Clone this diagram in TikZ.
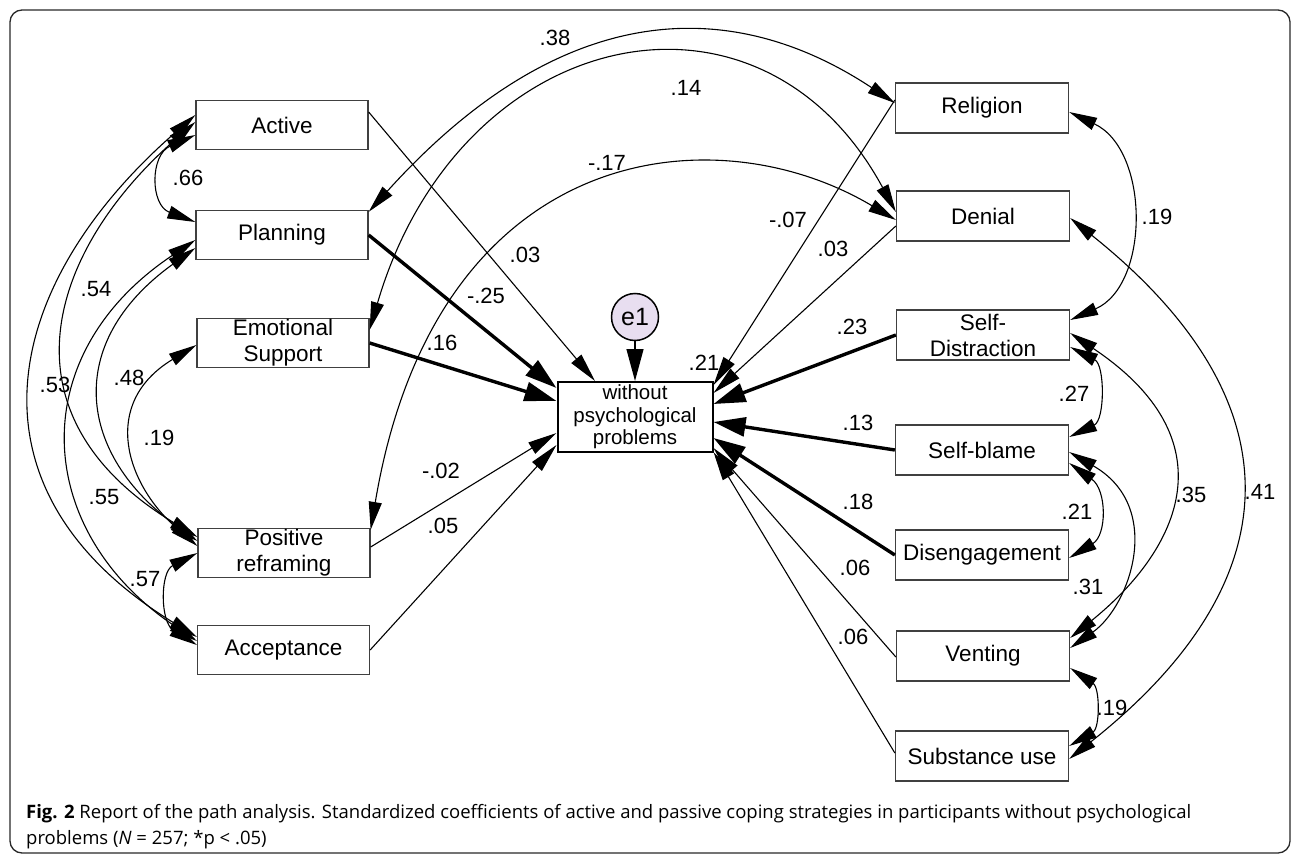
\documentclass[tikz,border=0pt]{standalone}
\usepackage{fontspec}
\setmainfont{Liberation Sans}
\newfontfamily\capfont{Open Sans}
\usetikzlibrary{arrows.meta,calc}
\definecolor{efill}{RGB}{232,222,240}
\definecolor{framec}{RGB}{40,40,40}
\begin{document}
\begin{tikzpicture}[x=1pt,y=-1pt,
  box/.style={draw=black!75, line width=1.3pt, minimum width=172pt, minimum height=49pt, inner sep=0pt, align=center, font=\fontsize{22.5}{26}\selectfont},
  rbox/.style={box, minimum width=173pt, minimum height=50pt},
  cbox/.style={draw=black, line width=2pt, minimum width=155pt, minimum height=70pt, inner sep=0pt, align=center, font=\fontsize{20.5}{22.5}\selectfont},
  lab/.style={font=\fontsize{22}{25}\selectfont, inner sep=0pt},
  reg/.style={-{Triangle[length=29pt,width=13pt]}, line width=1.1pt},
  sreg/.style={-{Triangle[length=32pt,width=19pt]}, line width=3.4pt},
  cov/.style={{Triangle[length=28pt,width=13pt]}-{Triangle[length=28pt,width=13pt]}, line width=1.1pt},
]
\useasboundingbox (0,0) rectangle (1292,856);
\draw[framec, line width=1.3pt, rounded corners=12pt] (10,10) rectangle (1290,853);

% left boxes
\node[box] (act) at (282,125) {Active};
\node[box] (plan) at (282,235) {Planning};
\node[box] (emo) at (283,343) {Emotional\\Support};
\node[box] (pos) at (284,553) {Positive\\reframing};
\node[box] (acc) at (283.5,650) {Acceptance};
% right boxes
\node[rbox] (rel) at (982,108) {Religion};
\node[rbox] (den) at (983,216) {Denial};
\node[rbox] (sd) at (983,335) {Self-\\Distraction};
\node[rbox] (sb) at (982,450) {Self-blame};
\node[rbox] (dis) at (982,555) {Disengagement};
\node[rbox] (ven) at (983,656) {Venting};
\node[rbox] (sub) at (982,756) {Substance use};
% centre
\node[cbox] (cen) at (635,417) {without\\psychological\\problems};
\node[circle, draw=black, line width=1.5pt, fill=efill, minimum size=47pt, inner sep=0pt, font=\fontsize{25}{25}\selectfont] (e1) at (635,317) {e1};
\draw[-{Triangle[length=32pt,width=17pt]}, line width=1.3pt] (e1) -- (cen);

% regressions, left
\draw[reg] ($(act.east)+(0,-13)$) -- ($(cen.north)+(-40,0)$);
\draw[sreg] (plan.east) -- ($(cen.west)+(0,-29)$);
\draw[sreg] (emo.east) -- ($(cen.west)+(0,-16)$);
\draw[reg] ($(pos.east)+(0,-6)$) -- ($(cen.west)+(0,16)$);
\draw[reg] (acc.east) -- ($(cen.west)+(0,28)$);
% regressions, right
\draw[reg] ($(rel.west)+(0,-8)$) -- ($(cen.east)+(0,-32)$);
\draw[reg] ($(den.west)+(0,10)$) -- ($(cen.east)+(0,-24)$);
\draw[sreg] (sd.west) -- ($(cen.east)+(0,-13)$);
\draw[sreg] (sb.west) -- ($(cen.east)+(0,5)$);
\draw[sreg] (dis.west) -- ($(cen.east)+(0,21)$);
\draw[reg] ($(ven.west)+(0,1)$) -- ($(cen.east)+(0,31)$);
\draw[reg] ($(sub.west)+(0,-3)$) -- ($(cen.east)+(0,35)$);

% covariances, left
\draw[cov] ($(act.west)+(0,10)$) .. controls (150,155) and (150,205) .. ($(plan.west)+(0,-13)$);
\draw[cov] ($(act.west)+(0,-10)$) .. controls (1,285) and (-44,489) .. ($(acc.west)+(0,-13)$);
\draw[cov] ($(act.west)+(0,-3)$) .. controls (53,247) and (-8,412) .. ($(pos.west)+(0,-16)$);
\draw[cov] ($(plan.west)+(0,5)$) .. controls (22,356) and (34,531) .. ($(acc.west)+(0,-9)$);
\draw[cov] ($(plan.west)+(0,13)$) .. controls (62,344) and (79,455) .. ($(pos.west)+(0,-12)$);
\draw[cov] ($(emo.west)+(0,2)$) .. controls (99,404) and (127,485) .. ($(pos.west)+(0,-7)$);
\draw[cov] (pos.west) .. controls (160,572) and (160,622) .. ($(acc.west)+(0,-5)$);

% covariances, top
\draw[cov] ($(plan.north east)+(0,2)$) .. controls (558,2) and (727,-8) .. ($(rel.west)+(0,-5)$);
\draw[cov] ($(emo.north east)+(0,12)$) .. controls (459,25) and (759,-41) .. ($(den.west)+(0,-4)$);
\draw[cov] ($(pos.north east)+(0,2)$) .. controls (436,140) and (715,112) .. ($(den.west)+(0,4)$);

% covariances, right
\draw[cov] ($(rel.east)+(0,4)$) .. controls (1150,150) and (1150,285) .. ($(sd.east)+(0,-15)$);
\draw[cov] ($(sd.east)+(0,-2)$) .. controls (1230,440) and (1181,548) .. ($(ven.east)+(0,-18)$);
\draw[cov] ($(sd.east)+(0,12)$) .. controls (1105,365) and (1105,420) .. ($(sb.east)+(0,-13)$);
\draw[cov] ($(sb.east)+(0,2)$) .. controls (1165,507) and (1130,606) .. ($(ven.east)+(0,-8)$);
\draw[cov] ($(sb.east)+(0,13)$) .. controls (1107,490) and (1107,535) .. ($(dis.east)+(0,3)$);
\draw[cov] ($(ven.east)+(0,12)$) .. controls (1100,688) and (1100,728) .. ($(sub.east)+(0,-10)$);
\draw[cov] ($(den.east)+(0,2)$) .. controls (1298,400) and (1295,580) .. ($(sub.east)+(0,3)$);

% labels
\node[lab] (l1) at (525,255) {.03};
\node[lab] (l2) at (486,296) {-.25};
\node[lab] (l3) at (442,343) {.16};
\node[lab] (l4) at (441,471) {-.02};
\node[lab] (l5) at (443,526) {.05};
\node[lab] (l6) at (704,363) {.21};
\node[lab] (l7) at (852,327) {.23};
\node[lab] (l8) at (858,423) {.13};
\node[lab] (l9) at (858,502) {.18};
\node[lab] (l10) at (788,220) {-.07};
\node[lab] (l11) at (833,249) {.03};
\node[lab] (l12) at (555,38) {.38};
\node[lab] (l13) at (686,88) {.14};
\node[lab] (l14) at (607,163) {-.17};
\node[lab] (l15) at (855,568) {.06};
\node[lab] (l16) at (853,637) {.06};
\node[lab] (l17) at (188,178) {.66};
\node[lab] (l18) at (96,289) {.54};
\node[lab] (l19) at (55,385) {.53};
\node[lab] (l20) at (129,378) {.48};
\node[lab] (l21) at (159,438) {.19};
\node[lab] (l22) at (104,497) {.55};
\node[lab] (l23) at (145,579) {.57};
\node[lab] (l24) at (1157,217) {.19};
\node[lab] (l25) at (1074,394) {.27};
\node[lab] (l26) at (1077,512) {.21};
\node[lab] (l27) at (1191,495) {.35};
\node[lab] (l28) at (1260,492) {.41};
\node[lab] (l29) at (1088,587) {.31};
\node[lab] (l30) at (1112,708) {.19};

% caption
\node[anchor=base west, inner sep=0pt, font=\capfont\fontsize{18.5}{22}\selectfont] (cap1) at (26,818) {\textbf{Fig. 2} Report of the path analysis. Standardized coefficients of active and passive coping strategies in participants without psychological};
\node[anchor=base west, inner sep=0pt, font=\capfont\fontsize{18.5}{22}\selectfont] (cap2) at (26,844) {problems (\textit{N} = 257; *p < .05)};
\end{tikzpicture}
\end{document}
